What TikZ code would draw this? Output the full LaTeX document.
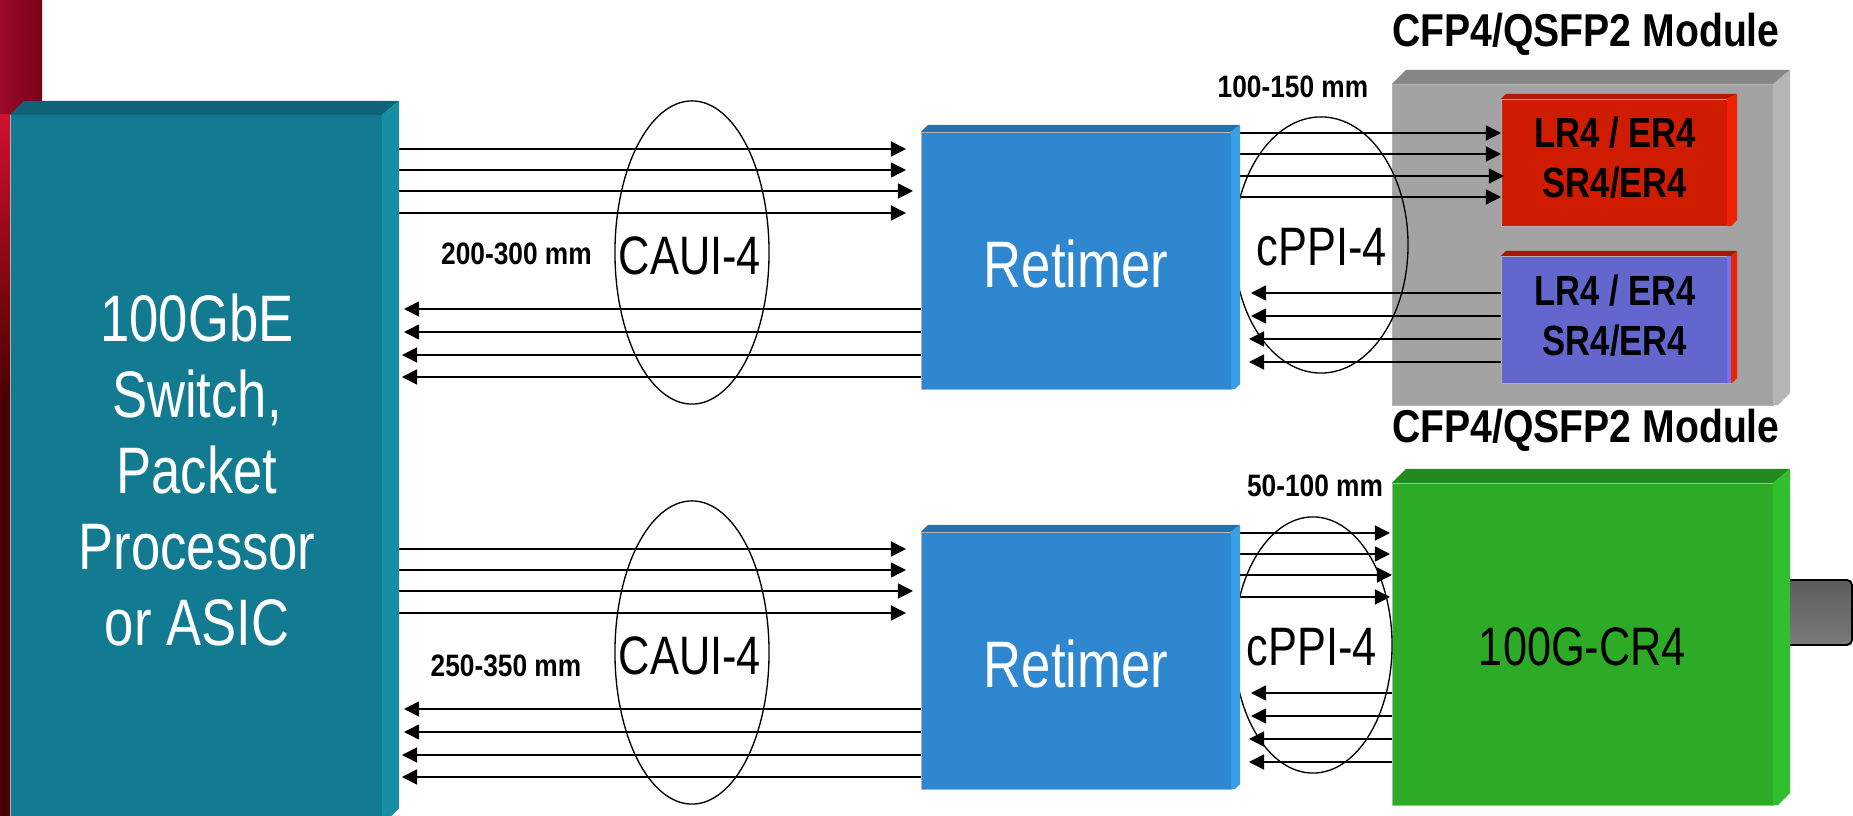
\documentclass[tikz,border=0pt]{standalone}
\usepackage{fontspec}
\usetikzlibrary{arrows.meta,shapes.geometric,calc}
\newfontfamily\condfont[FakeStretch=0.8]{Liberation Sans}
\newfontfamily\boldfont[FakeStretch=0.85]{Liberation Sans}
\newfontfamily\optfont[FakeStretch=0.82]{Liberation Sans}
\definecolor{asicfront}{HTML}{127B91}
\definecolor{asictop}{HTML}{0E6476}
\definecolor{asicside}{HTML}{178EA3}
\definecolor{retfront}{HTML}{2F87CF}
\definecolor{rettop}{HTML}{2870AB}
\definecolor{retside}{HTML}{3A9DE8}
\definecolor{modfront}{HTML}{A3A3A3}
\definecolor{modtop}{HTML}{868686}
\definecolor{modside}{HTML}{B5B5B5}
\definecolor{redfront}{HTML}{CF1C00}
\definecolor{redtop}{HTML}{B01800}
\definecolor{redside}{HTML}{EE2200}
\definecolor{bluefront}{HTML}{6366CC}
\definecolor{bluestrip}{HTML}{7073EE}
\definecolor{bluetop}{HTML}{A81505}
\definecolor{greenfront}{HTML}{2DAB27}
\definecolor{greentop}{HTML}{228A1E}
\definecolor{greenside}{HTML}{32BF2E}
\definecolor{stripdark}{HTML}{4A0000}
\definecolor{stripmid}{HTML}{7A0018}
\definecolor{stripleft}{HTML}{9A0A28}
\definecolor{stripbright}{HTML}{D0102E}
% top and side faces of a box: name, side width, depth, cut, side colour, top colour
\newcommand{\slab}[6]{
	\fill[#6] (#1.north west) -- ++(#3,-#3) -- ($(#1.north east)+(#2,-#3)$) -- (#1.north east) -- cycle;
	\fill[#5] (#1.north east) -- ++(#2,-#3) -- ($(#1.south east)+(#2,-#4)$) -- ($(#1.south east)+(#2-#4,0)$) -- (#1.south east) -- cycle;
}
\begin{document}
\begin{tikzpicture}[x=0.01cm, y=-0.01cm,
	>={Triangle[length=0.15cm, width=0.15cm]},
	box/.style={rectangle, inner sep=0, outer sep=0, draw=gray!60, line width=0.2pt},
	wire/.style={<-, line width=0.43pt},
	loop/.style={ellipse, draw=black, line width=0.38pt, inner sep=0, outer sep=0},
	looptext/.style={anchor=base, inner sep=0, font=\condfont\fontsize{15.4}{15.4}\selectfont},
	lenlabel/.style={anchor=base, inner sep=0, font=\boldfont\bfseries\fontsize{8.8}{10}\selectfont},
	title/.style={anchor=base, inner sep=0, font=\boldfont\bfseries\fontsize{13.1}{15}\selectfont},
	optlabel/.style={inner sep=0, align=center, font=\optfont\bfseries\fontsize{12}{14.2}\selectfont},
	bigtext/.style={text=white, font=\condfont\fontsize{18.7}{21.6}\selectfont}]
	\useasboundingbox (0,0) rectangle (1853,816);

	% backdrop at the left edge
	\shade[left color=stripleft, right color=stripmid] (0,0) rectangle (42,115);
	\shade[top color=stripbright, bottom color=stripdark] (0,115) rectangle (10,400);
	\fill[stripdark] (0,400) rectangle (10,816);

	% boxes
	\node[box, fill=asicfront, minimum width=3.72cm, minimum height=7.01cm] (asic) at (196,465.5) {};
	\node[bigtext, align=center] (asictext) at (197,470) {100GbE\\Switch,\\Packet\\Processor\\or ASIC};
	\node[box, fill=modfront, minimum width=3.81cm, minimum height=3.21cm] (module) at (1582.5,244.5) {};
	\node[box, fill=redfront, minimum width=2.26cm, minimum height=1.27cm] (optica) at (1614,162.5) {};
	\node[box, fill=bluefront, minimum width=2.3cm, minimum height=1.27cm] (opticb) at (1616,319.5) {};
	\node[box, fill=greenfront, minimum width=3.81cm, minimum height=3.22cm, text height=0.44cm,
		font=\condfont\fontsize{15.4}{15.4}\selectfont] (copper) at (1582.5,644) {100G-CR4};
	\shade[top color=black!64, bottom color=black!52, draw=black, line width=0.55pt, rounded corners=0.05cm]
		(1780,580) rectangle (1852,645);

	% loops around the lanes
	\node[loop, minimum width=1.54cm, minimum height=3.03cm] (cauia) at (692,252.5) {};
	\node[loop, minimum width=1.54cm, minimum height=3.03cm] (cauib) at (692,652.5) {};
	\node[loop, minimum width=1.74cm, minimum height=2.56cm] (cppia) at (1321,245) {};
	\node[loop, minimum width=1.58cm, minimum height=2.56cm] (cppib) at (1313,645) {};
	\node[looptext] (cauiatext) at (690,275) {CAUI-4};
	\node[looptext] (cauibtext) at (690,675) {CAUI-4};
	\node[looptext] (cppiatext) at (1322,266) {cPPI-4};
	\node[looptext] (cppibtext) at (1312,666) {cPPI-4};

	\node[box, fill=retfront, minimum width=3.1cm, minimum height=2.57cm, text height=0.54cm, text=white,
		font=\condfont\fontsize{18.7}{18.7}\selectfont] (retimera) at (1076,260.5) {Retimer};
	\node[box, fill=retfront, minimum width=3.1cm, minimum height=2.57cm, text height=0.54cm, text=white,
		font=\condfont\fontsize{18.7}{18.7}\selectfont] (retimerb) at (1076,660.5) {Retimer};

	% lanes
	\foreach \y/\tip [count=\i] in {149/906,170/906,191/913,213/906}{
		\coordinate (caitxa\i) at (\tip,\y);
		\draw[wire] (caitxa\i) -- (asic.east |- caitxa\i);
	}
	\foreach \y/\tip [count=\i] in {309/404,332/404,355/402,377/402}{
		\coordinate (cairxa\i) at (\tip,\y);
		\draw[wire] (cairxa\i) -- (retimera.west |- cairxa\i);
	}
	\foreach \y/\tip [count=\i] in {549/906,570/906,591/913,613/906}{
		\coordinate (caitxb\i) at (\tip,\y);
		\draw[wire] (caitxb\i) -- (asic.east |- caitxb\i);
	}
	\foreach \y/\tip [count=\i] in {709/404,732/404,755/402,777/402}{
		\coordinate (cairxb\i) at (\tip,\y);
		\draw[wire] (cairxb\i) -- (retimerb.west |- cairxb\i);
	}
	\foreach \y/\tip [count=\i] in {133/1501,154/1501,176/1504,197/1501}{
		\coordinate (cpptxa\i) at (\tip,\y);
		\draw[wire] (cpptxa\i) -- (retimera.east |- cpptxa\i);
	}
	\foreach \y/\tip [count=\i] in {293/1251,316/1251,339/1249,362/1249}{
		\coordinate (cpprxa\i) at (\tip,\y);
		\draw[wire] (cpprxa\i) -- (opticb.west |- cpprxa\i);
	}
	\foreach \y/\tip [count=\i] in {533/1390,554/1390,575/1392,597/1390}{
		\coordinate (cpptxb\i) at (\tip,\y);
		\draw[wire] (cpptxb\i) -- (retimerb.east |- cpptxb\i);
	}
	\foreach \y/\tip [count=\i] in {693/1251,716/1251,739/1249,762/1249}{
		\coordinate (cpprxb\i) at (\tip,\y);
		\draw[wire] (cpprxb\i) -- (copper.west |- cpprxb\i);
	}

	% faces go over the lane starts
	\slab{asic}{17}{14}{8}{asicside}{asictop}
	\slab{retimera}{9}{7}{5}{retside}{rettop}
	\slab{retimerb}{9}{7}{5}{retside}{rettop}
	\slab{module}{17}{14}{12}{modside}{modtop}
	\slab{copper}{17}{14}{12}{greenside}{greentop}
	\slab{optica}{10}{5}{6}{redside}{redtop}
	\slab{opticb}{6}{5}{5}{redside}{bluetop}
	\fill[bluestrip] (1727,256) rectangle (1731,383);

	% labels
	\node[title] (titlea) at (1586,47) {CFP4/QSFP2 Module};
	\node[title] (titleb) at (1586,443) {CFP4/QSFP2 Module};
	\node[lenlabel] (lena) at (516.5,265) {200-300 mm};
	\node[lenlabel] (lenb) at (506,677) {250-350 mm};
	\node[lenlabel] (lenc) at (1293,98) {100-150 mm};
	\node[lenlabel] (lend) at (1315,497) {50-100 mm};
	\node[optlabel] (opticatext) at (1615,158) {LR4 / ER4\\SR4/ER4};
	\node[optlabel] (opticbtext) at (1615,316) {LR4 / ER4\\SR4/ER4};

\end{tikzpicture}
\end{document}
